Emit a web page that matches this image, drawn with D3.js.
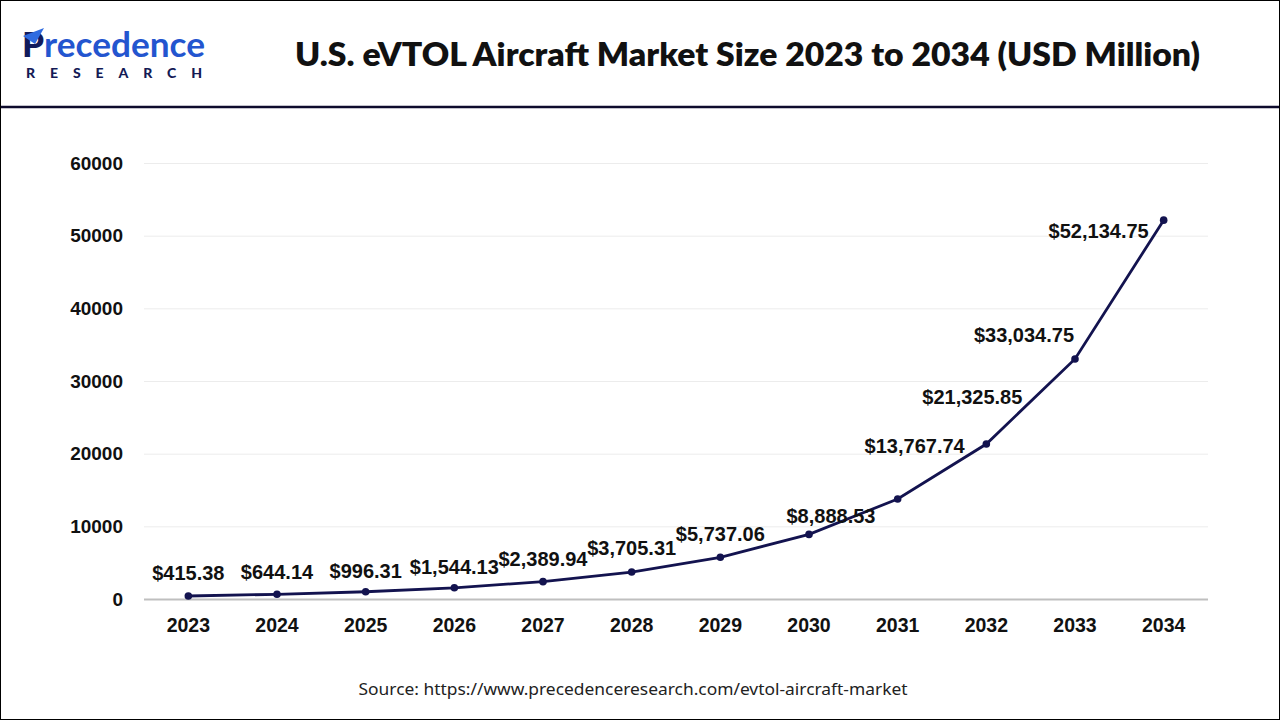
<!DOCTYPE html>
<html>
<head>
<meta charset="utf-8">
<script src="https://cdn.jsdelivr.net/npm/d3@7"></script>
<style>
  html, body { margin: 0; padding: 0; background: #fff; }
  svg { display: block; }
</style>
</head>
<body>
<svg id="chart" width="1280" height="720"></svg>
<script>
// ---- data ----
const years = ["2023","2024","2025","2026","2027","2028","2029","2030","2031","2032","2033","2034"];
const values = [415.38, 644.14, 996.31, 1544.13, 2389.94, 3705.31, 5737.06, 8888.53, 13767.74, 21325.85, 33034.75, 52134.75];
const yTicks = [0, 10000, 20000, 30000, 40000, 50000, 60000];
const titleText = "U.S. eVTOL Aircraft Market Size 2023 to 2034 (USD Million)";
const sourceText = "Source: https://www.precedenceresearch.com/evtol-aircraft-market";

// ---- drawing ----
const svg = d3.select("#chart");
const W = 1280, H = 720;
const plot = { left: 144, right: 1208, top: 163, bottom: 599 };

svg.append("rect").attr("x", 0.5).attr("y", 0.5).attr("width", W - 1).attr("height", H - 1)
  .attr("fill", "#fff").attr("stroke", "#000").attr("stroke-width", 1);

// header separator
svg.append("line").attr("x1", 1).attr("x2", W - 1).attr("y1", 107).attr("y2", 107)
  .attr("stroke", "#0d0b2c").attr("stroke-width", 2.5);

// logo
const logo = svg.append("g").attr("transform", "translate(22,0)");
logo.append("text").attr("x", 0).attr("y", 57)
  .attr("font-family", "Lato, 'Open Sans', sans-serif").attr("font-weight", 700).attr("font-size", 34)
  .attr("textLength", 183).attr("lengthAdjust", "spacingAndGlyphs")
  .html('<tspan fill="#111a5c" font-weight="900">P</tspan><tspan fill="#2355cf">recedence</tspan>');
// plane accent on P
logo.append("path").attr("d", "M1,36 L22,28 L13,44 Z").attr("fill", "#2f6be0");
logo.append("text").attr("x", 4).attr("y", 78)
  .attr("font-family", "Lato, 'Open Sans', sans-serif").attr("font-weight", 900).attr("font-size", 14)
  .attr("textLength", 176).attr("lengthAdjust", "spacing").attr("fill", "#141a55").text("RESEARCH");

// title
svg.append("text").attr("x", 295).attr("y", 66)
  .attr("font-family", "Lato, 'Open Sans', sans-serif").attr("font-weight", 800).attr("font-size", 32)
  .attr("textLength", 905).attr("lengthAdjust", "spacingAndGlyphs")
  .attr("fill", "#111").text(titleText);

// scales
const x = d3.scaleBand().domain(years).range([plot.left, plot.right]).paddingInner(0).paddingOuter(0);
const cx = d => x(d) + x.bandwidth() / 2;
const y = d3.scaleLinear().domain([0, 60000]).range([plot.bottom, plot.top]);

// gridlines + y labels
const yAxis = d3.axisLeft(y).tickValues(yTicks).tickSize(-(plot.right - plot.left)).tickPadding(21).tickFormat(d3.format("d"));
const gy = svg.append("g").attr("transform", `translate(${plot.left},0)`).call(yAxis);
gy.select(".domain").remove();
gy.selectAll(".tick line").attr("stroke", (d) => d === 0 ? "#bfbfbf" : "#ececec")
  .attr("stroke-width", (d) => d === 0 ? 2 : 1);
gy.selectAll(".tick text").attr("font-family", "'Liberation Sans', Arial, sans-serif")
  .attr("font-weight", 700).attr("font-size", 19).attr("fill", "#111");

// x axis labels
const xAxis = d3.axisBottom(x).tickSize(0).tickPadding(19);
const gx = svg.append("g").attr("transform", `translate(0,${plot.bottom})`).call(xAxis);
gx.select(".domain").remove();
gx.selectAll(".tick text").attr("font-family", "'Liberation Sans', Arial, sans-serif")
  .attr("font-weight", 700).attr("font-size", 19.5).attr("fill", "#111");

// line
const pts = years.map((yr, i) => ({ yr, v: values[i] }));
svg.append("path").datum(pts)
  .attr("d", d3.line().x(d => cx(d.yr)).y(d => y(d.v)))
  .attr("fill", "none").attr("stroke", "#13134f").attr("stroke-width", 2.8);
svg.selectAll("circle.pt").data(pts).join("circle").attr("class", "pt")
  .attr("cx", d => cx(d.yr)).attr("cy", d => y(d.v)).attr("r", 3.8).attr("fill", "#13134f");

// value labels (layout nudges relative to each point)
const nudge = [[0,-16],[0,-15],[0,-14],[0,-14],[0,-16],[0,-17],[0,-16],[22,-11],[17,-46],[-14,-40],[-51,-17],[-65,18]];
const fmt = d3.format(",.2f");
svg.selectAll("text.lbl").data(pts).join("text").attr("class", "lbl")
  .attr("x", (d, i) => cx(d.yr) + nudge[i][0]).attr("y", (d, i) => y(d.v) + nudge[i][1])
  .attr("text-anchor", "middle")
  .attr("font-family", "'Liberation Sans', Arial, sans-serif").attr("font-weight", 700).attr("font-size", 20)
  .attr("fill", "#111").text(d => "$" + fmt(d.v));

// source
svg.append("text").attr("x", 633).attr("y", 695).attr("text-anchor", "middle")
  .attr("font-family", "'Noto Sans', 'Open Sans', sans-serif").attr("font-size", 17).attr("fill", "#222")
  .attr("textLength", 549).attr("lengthAdjust", "spacingAndGlyphs")
  .text(sourceText);
</script>
</body>
</html>
